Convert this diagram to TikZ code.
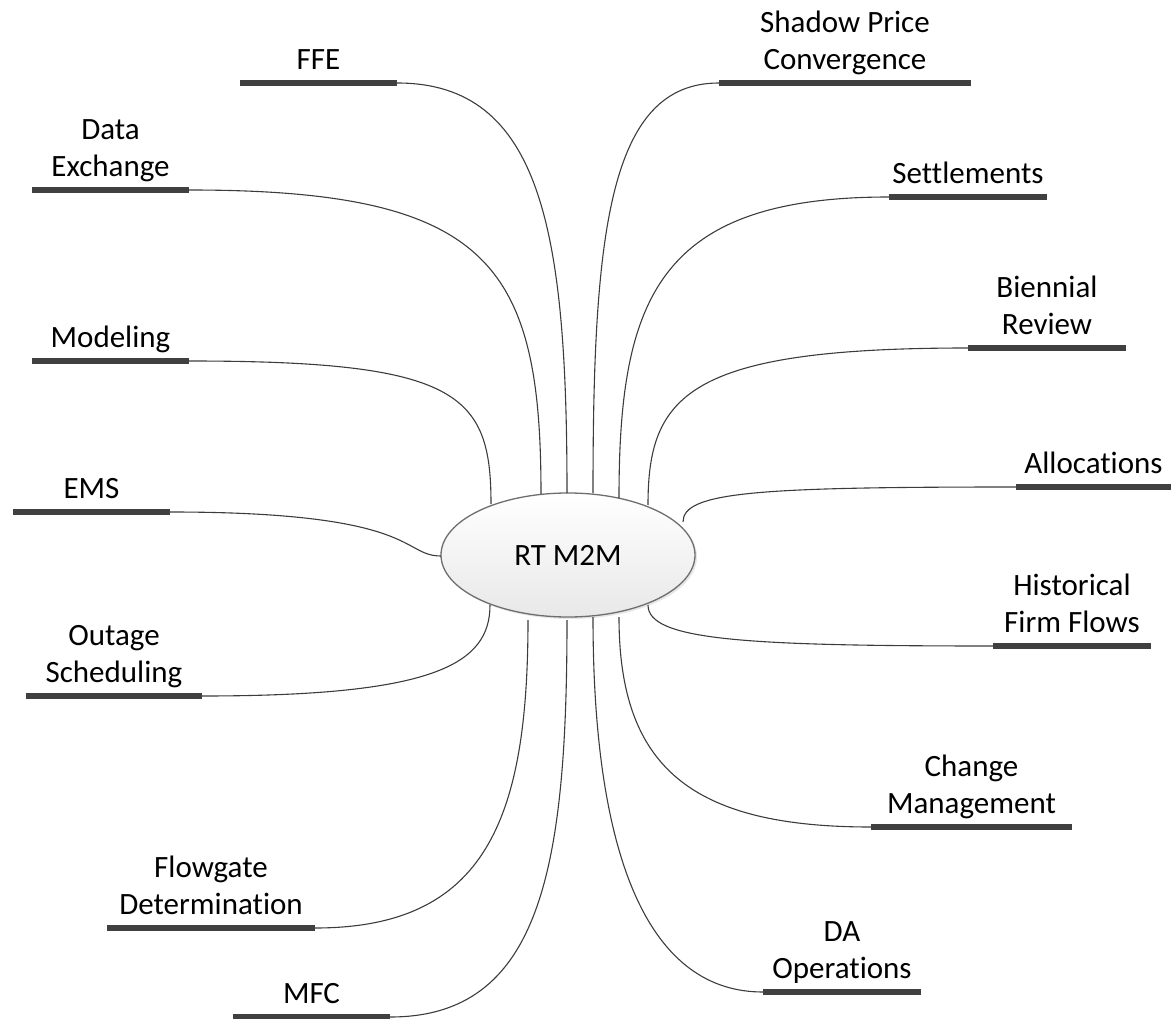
\documentclass[tikz,border=0pt]{standalone}
\usepackage{fontspec}
\setmainfont{Carlito}[Ligatures=NoCommon]
\usetikzlibrary{shapes.geometric,shadows}

\definecolor{barcol}{HTML}{404040}
\definecolor{linkcol}{HTML}{3C3C3C}
\definecolor{rimcol}{HTML}{6E6E6E}

\begin{document}
\begin{tikzpicture}[x=1pt,y=-1pt,
  every node/.style={font=\fontsize{31}{37}\selectfont},
  topic/.style={align=center,anchor=south,inner xsep=0pt,inner ysep=0pt,
    minimum width=#1,execute at end node={\rule[-13pt]{0pt}{0pt}}},
  bar/.style={draw=barcol,line width=6pt},
  link/.style={draw=linkcol,line width=1.1pt},
  hub/.style={ellipse,draw=rimcol,line width=1.3pt,top color=white,
    bottom color=black!9,minimum width=254pt,minimum height=124pt,
    drop shadow={opacity=0.2,shadow xshift=2pt,shadow yshift=-2pt}}]
\useasboundingbox (0,0) rectangle (1171,1019);

\node[hub] (rt) at (568,555) {RT M2M};

% left side
\node[topic=157pt] (ffe) at (318.5,83) {FFE};
\node[topic=157pt] (dat) at (110.5,190) {Data\\Exchange};
\node[topic=157pt] (mod) at (110.5,361) {Modeling};
\node[topic=157pt] (ems) at (91.5,512) {EMS};
\node[topic=176pt] (out) at (114,696) {Outage\\Scheduling};
\node[topic=208pt] (flo) at (211,928) {Flowgate\\Determination};
\node[topic=157pt] (mfc) at (311.5,1017) {MFC};

% right side
\node[topic=252pt] (sha) at (845,83) {Shadow Price\\Convergence};
\node[topic=158pt] (set) at (968,197) {Settlements};
\node[topic=158pt] (bie) at (1047,348) {Biennial\\Review};
\node[topic=155pt] (all) at (1093.5,487) {Allocations};
\node[topic=158pt] (his) at (1072,646) {Historical\\Firm Flows};
\node[topic=201pt] (chg) at (971.5,827) {Change\\Management};
\node[topic=158pt] (dao) at (842,992) {DA\\Operations};

% ends on the ellipse
\coordinate (tmod) at (491,504);
\coordinate (tdat) at (541,494);
\coordinate (tffe) at (567,493);
\coordinate (tsha) at (593,493);
\coordinate (tset) at (619,498);
\coordinate (tbie) at (648,505);
\coordinate (tall) at (683,522);
\coordinate (tems) at (441,556);
\coordinate (bout) at (490,605);
\coordinate (bflo) at (528,620);
\coordinate (bmfc) at (567,620);
\coordinate (bdao) at (593,617);
\coordinate (bchg) at (619,617);
\coordinate (bhis) at (648,605);

\foreach \n in {ffe,dat,mod,ems,out,flo,mfc,sha,set,bie,all,his,chg,dao}
  \draw[bar] (\n.south west) -- (\n.south east);

\draw[link] (ffe.south east) .. controls +(145,0) and +(0,-260) .. (tffe);
\draw[link] (dat.south east) .. controls +(300,0) and +(0,-230) .. (tdat);
\draw[link] (mod.south east) .. controls +(270,0) and +(0,-110) .. (tmod);
\draw[link] (ems.south east) .. controls +(250,0) and +(-40,0) .. (tems);
\draw[link] (out.south east) .. controls +(230,0) and +(0,60) .. (bout);
\draw[link] (flo.south east) .. controls +(170,0) and +(0,200) .. (bflo);
\draw[link] (mfc.south east) .. controls +(150,0) and +(0,250) .. (bmfc);

\draw[link] (sha.south west) .. controls +(-110,0) and +(0,-260) .. (tsha);
\draw[link] (set.south west) .. controls +(-230,0) and +(0,-200) .. (tset);
\draw[link] (bie.south west) .. controls +(-280,0) and +(0,-110) .. (tbie);
\draw[link] (all.south west) .. controls +(-260,0) and +(0,-30) .. (tall);
\draw[link] (his.south west) .. controls +(-250,0) and +(0,35) .. (bhis);
\draw[link] (chg.south west) .. controls +(-180,0) and +(0,150) .. (bchg);
\draw[link] (dao.south west) .. controls +(-110,0) and +(0,250) .. (bdao);
\end{tikzpicture}
\end{document}
